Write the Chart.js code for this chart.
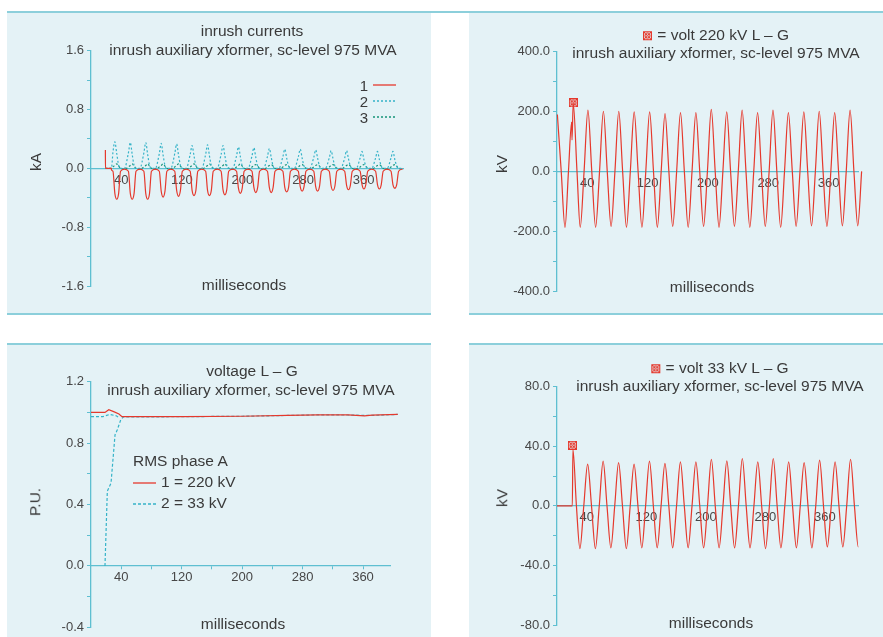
<!DOCTYPE html>
<html>
<head>
<meta charset="utf-8">
<script src="https://cdn.jsdelivr.net/npm/chart.js@4.4.1/dist/chart.umd.min.js"></script>
<style>
  html, body { margin: 0; padding: 0; background: #fff; }
  body { width: 883px; height: 637px; position: relative; overflow: hidden; font-family: 'Liberation Sans', Arial, sans-serif; }
  .panel { position: absolute; background: #e4f2f6; }
  .rule { position: absolute; height: 2px; background: #8ccfdb; }
  canvas.chart { position: absolute; }
  .txt { position: absolute; transform: translate(-50%, -50%); white-space: nowrap; font-size: 15.5px; color: #3a3a3a; line-height: 1; }
  .rot { transform: translate(-50%, -50%) rotate(-90deg); }
  .lt { position: absolute; white-space: nowrap; font-size: 15.5px; color: #3a3a3a; line-height: 1; transform: translateY(-50%); }
  svg.key { position: absolute; }
  canvas.mk { vertical-align: 0px; margin-right: 1px; }
</style>
</head>
<body>
<div class="rule" style="left:7px;top:11px;width:876px"></div>
<div class="panel" style="left:7px;top:13px;width:424px;height:300px"></div>
<div class="rule" style="left:7px;top:313px;width:424px"></div>
<div class="panel" style="left:469px;top:13px;width:414px;height:300px"></div>
<div class="rule" style="left:469px;top:313px;width:414px"></div>
<div class="rule" style="left:7px;top:343px;width:424px"></div>
<div class="panel" style="left:7px;top:345px;width:424px;height:292px"></div>
<div class="rule" style="left:469px;top:343px;width:414px"></div>
<div class="panel" style="left:469px;top:345px;width:414px;height:292px"></div>

<canvas class="chart" id="cTL" width="424" height="302" style="left:7px;top:12px"></canvas>
<canvas class="chart" id="cTR" width="414" height="302" style="left:469px;top:12px"></canvas>
<canvas class="chart" id="cBL" width="424" height="310" style="left:7px;top:344px"></canvas>
<canvas class="chart" id="cBR" width="414" height="310" style="left:469px;top:344px"></canvas>

<!-- top left: inrush currents -->
<div class="txt" style="left:252px;top:31px">inrush currents</div>
<div class="txt" style="left:253px;top:50px">inrush auxiliary xformer, sc-level 975 MVA</div>
<div class="txt" style="left:244px;top:285px">milliseconds</div>
<div class="txt rot" style="left:36px;top:162px">kA</div>
<div class="txt" style="left:364px;top:85px;font-size:15px">1</div>
<svg class="key" style="left:373px;top:82px" width="23" height="6"><line x1="0" y1="3" x2="23" y2="3" stroke="#e5392d" stroke-width="1.3"/></svg>
<div class="txt" style="left:364px;top:101px;font-size:15px">2</div>
<svg class="key" style="left:373px;top:98px" width="23" height="6"><line x1="0" y1="3" x2="23" y2="3" stroke="#35b3c8" stroke-width="1.3" stroke-dasharray="2 2"/></svg>
<div class="txt" style="left:364px;top:117px;font-size:15px">3</div>
<svg class="key" style="left:373px;top:114px" width="23" height="6"><line x1="0" y1="3" x2="23" y2="3" stroke="#159478" stroke-width="1.3" stroke-dasharray="2 2"/></svg>

<!-- top right: 220 kV -->
<div class="txt" style="left:716px;top:35px"><canvas class="mk" width="9" height="9"></canvas> = volt 220 kV L – G</div>
<div class="txt" style="left:716px;top:53px">inrush auxiliary xformer, sc-level 975 MVA</div>
<div class="txt" style="left:712px;top:287px">milliseconds</div>
<div class="txt rot" style="left:502px;top:164px">kV</div>

<!-- bottom left: RMS -->
<div class="txt" style="left:252px;top:371px">voltage L – G</div>
<div class="txt" style="left:251px;top:390px">inrush auxiliary xformer, sc-level 975 MVA</div>
<div class="txt" style="left:243px;top:624px">milliseconds</div>
<div class="txt rot" style="left:35px;top:502px">P.U.</div>
<div class="lt" style="left:133px;top:461px">RMS phase A</div>
<svg class="key" style="left:133px;top:480px" width="23" height="6"><line x1="0" y1="3" x2="23" y2="3" stroke="#e5392d" stroke-width="1.3"/></svg>
<div class="lt" style="left:161px;top:482px">1 = 220 kV</div>
<svg class="key" style="left:133px;top:501px" width="23" height="6"><line x1="0" y1="3" x2="23" y2="3" stroke="#35b3c8" stroke-width="1.3" stroke-dasharray="3 2"/></svg>
<div class="lt" style="left:161px;top:503px">2 = 33 kV</div>

<!-- bottom right: 33 kV -->
<div class="txt" style="left:720px;top:368px"><canvas class="mk" width="9" height="9"></canvas> = volt 33 kV L – G</div>
<div class="txt" style="left:720px;top:386px">inrush auxiliary xformer, sc-level 975 MVA</div>
<div class="txt" style="left:711px;top:623px">milliseconds</div>
<div class="txt rot" style="left:502px;top:498px">kV</div>

<script>
// ---- inrush currents (kA), shared time base in ms ----
const curT = [19.0, 19.1, 26.9, 27.0,
  29.0, 31.5, 34.0, 36.5, 39.0, 44.2,
  49.4, 51.9, 54.4, 56.9, 59.4, 64.6,
  69.8, 72.3, 74.8, 77.3, 79.8, 85.0,
  90.2, 92.7, 95.2, 97.7, 100.2, 105.4,
  110.6, 113.1, 115.6, 118.1, 120.6, 125.8,
  131.0, 133.5, 136.0, 138.5, 141.0, 146.2,
  151.4, 153.9, 156.4, 158.9, 161.4, 166.6,
  171.8, 174.3, 176.8, 179.3, 181.8, 187.0,
  192.2, 194.7, 197.2, 199.7, 202.2, 207.4,
  212.6, 215.1, 217.6, 220.1, 222.6, 227.8,
  233.0, 235.5, 238.0, 240.5, 243.0, 248.2,
  253.4, 255.9, 258.4, 260.9, 263.4, 268.6,
  273.8, 276.3, 278.8, 281.3, 283.8, 289.0,
  294.2, 296.7, 299.2, 301.7, 304.2, 309.4,
  314.6, 317.1, 319.6, 322.1, 324.6, 329.8,
  335.0, 337.5, 340.0, 342.5, 345.0, 350.2,
  355.4, 357.9, 360.4, 362.9, 365.4, 370.6,
  375.8, 378.3, 380.8, 383.3, 385.8, 391.0,
  396.2, 398.7, 401.2, 403.7, 406.2, 411.4];

const curPhase1 = [0.25, 0, 0, -0.02,
  -0.04, -0.34, -0.42, -0.34, -0.04, -0.01,
  -0.04, -0.34, -0.42, -0.34, -0.04, -0.01,
  -0.04, -0.34, -0.42, -0.34, -0.04, -0.01,
  -0.04, -0.31, -0.39, -0.31, -0.04, -0.01,
  -0.04, -0.30, -0.38, -0.30, -0.04, -0.01,
  -0.04, -0.30, -0.37, -0.30, -0.04, -0.01,
  -0.04, -0.30, -0.37, -0.30, -0.04, -0.01,
  -0.04, -0.29, -0.36, -0.29, -0.04, -0.01,
  -0.04, -0.27, -0.34, -0.27, -0.04, -0.01,
  -0.04, -0.26, -0.33, -0.26, -0.04, -0.01,
  -0.04, -0.26, -0.33, -0.26, -0.04, -0.01,
  -0.04, -0.26, -0.32, -0.26, -0.04, -0.01,
  -0.04, -0.25, -0.31, -0.25, -0.04, -0.01,
  -0.04, -0.25, -0.31, -0.25, -0.04, -0.01,
  -0.04, -0.24, -0.30, -0.24, -0.04, -0.01,
  -0.04, -0.23, -0.29, -0.23, -0.04, -0.01,
  -0.04, -0.22, -0.28, -0.22, -0.04, -0.01,
  -0.04, -0.22, -0.28, -0.22, -0.04, -0.01,
  -0.04, -0.22, -0.27, -0.22, -0.04, -0.01];

const curPhase2 = [0, 0, 0, 0,
  0.22, 0.36, 0.20, 0.04, 0, 0,
  0.21, 0.35, 0.19, 0.04, 0, 0,
  0.21, 0.35, 0.19, 0.04, 0, 0,
  0.20, 0.34, 0.18, 0.04, 0, 0,
  0.20, 0.33, 0.18, 0.04, 0, 0,
  0.19, 0.31, 0.17, 0.04, 0, 0,
  0.19, 0.32, 0.17, 0.04, 0, 0,
  0.19, 0.31, 0.17, 0.04, 0, 0,
  0.17, 0.29, 0.16, 0.03, 0, 0,
  0.17, 0.28, 0.15, 0.03, 0, 0,
  0.16, 0.27, 0.15, 0.03, 0, 0,
  0.16, 0.26, 0.14, 0.03, 0, 0,
  0.16, 0.26, 0.14, 0.03, 0, 0,
  0.15, 0.25, 0.14, 0.03, 0, 0,
  0.14, 0.24, 0.13, 0.03, 0, 0,
  0.14, 0.24, 0.13, 0.03, 0, 0,
  0.14, 0.23, 0.12, 0.03, 0, 0,
  0.14, 0.23, 0.12, 0.03, 0, 0,
  0.14, 0.23, 0.12, 0.03, 0, 0];

const curPhase3 = [0, 0, 0, 0,
  0.02, 0.04, 0.06, 0.03, 0, -0.01,
  0.02, 0.04, 0.06, 0.03, 0, -0.01,
  0.02, 0.04, 0.06, 0.03, 0, -0.01,
  0.02, 0.04, 0.06, 0.03, 0, -0.01,
  0.02, 0.04, 0.06, 0.03, 0, -0.01,
  0.02, 0.04, 0.06, 0.03, 0, -0.01,
  0.02, 0.04, 0.06, 0.03, 0, -0.01,
  0.02, 0.04, 0.06, 0.03, 0, -0.01,
  0.02, 0.04, 0.06, 0.03, 0, -0.01,
  0.02, 0.04, 0.05, 0.03, 0, -0.01,
  0.02, 0.04, 0.05, 0.03, 0, -0.01,
  0.02, 0.04, 0.05, 0.03, 0, -0.01,
  0.02, 0.04, 0.05, 0.03, 0, -0.01,
  0.02, 0.04, 0.05, 0.03, 0, -0.01,
  0.02, 0.04, 0.05, 0.03, 0, -0.01,
  0.02, 0.04, 0.05, 0.03, 0, -0.01,
  0.02, 0.04, 0.05, 0.03, 0, -0.01,
  0.02, 0.04, 0.05, 0.03, 0, -0.01,
  0.02, 0.04, 0.05, 0.03, 0, -0.01];

// ---- 220 kV L-G voltage (kV) ----
const v220T = [0.5, 5.6, 10.6, 15.2, 19.4, 19.9, 21.5, 26.5,
  30.8, 35.9, 41.0, 46.1, 51.2, 56.4, 61.5, 66.6,
  71.7, 76.8, 81.9, 87.0, 92.1, 97.2, 102.3, 107.5,
  112.6, 117.7, 122.8, 127.9, 133.0, 138.1, 143.2, 148.3,
  153.4, 158.6, 163.7, 168.8, 173.9, 179.0, 184.1, 189.2,
  194.3, 199.4, 204.5, 209.7, 214.8, 219.9, 225.0, 230.1,
  235.2, 240.3, 245.4, 250.5, 255.6, 260.8, 265.9, 271.0,
  276.1, 281.2, 286.3, 291.4, 296.5, 301.6, 306.7, 311.9,
  317.0, 322.1, 327.2, 332.3, 337.4, 342.5, 347.6, 352.7,
  357.8, 363.0, 368.1, 373.2, 378.3, 383.4, 388.5, 393.6,
  398.7, 403.8, 408.9];
const v220 = [190, 0, -187, 0, 165, 105, 228, 0,
  -187, 0, 205, 0, -187, 0, 201, 0,
  -184, 0, 201, 0, -187, 0, 199, 0,
  -187, 0, 199, 0, -187, 0, 193, 0,
  -184, 0, 196, 0, -187, 0, 196, 0,
  -184, 0, 207, 0, -187, 0, 199, 0,
  -184, 0, 205, 0, -187, 0, 196, 0,
  -184, 0, 205, 0, -187, 0, 196, 0,
  -184, 0, 199, 0, -182, 0, 201, 0,
  -184, 0, 196, 0, -182, 0, 205, 0,
  -182, 0, 193];
const mark220 = { x: 21.6, y: 229 };

// ---- RMS phase A (p.u.) ----
const rms220T = [0, 18.5, 23.5, 30, 37, 41, 120, 200, 260, 300, 340, 362, 372, 406];
const rms220 = [1.0, 1.0, 1.017, 1.005, 0.99, 0.972, 0.972, 0.975, 0.98, 0.984, 0.984, 0.978, 0.982, 0.987];
const rms33T = [0, 16, 25, 34, 37.5, 37.6, 18.5, 21.6, 26.5, 31.8, 34.8, 39.3, 42.7, 120, 200, 260, 300, 340, 370, 406];
const rms33 = [0.973, 0.973, 0.987, 0.977, 0.962, null, 0, 0.487, 0.54, 0.854, 0.887, 0.951, 0.97, 0.972, 0.975, 0.98, 0.984, 0.983, 0.98, 0.987];

// ---- 33 kV L-G voltage (kV) ----
const v33T = [0, 20.6, 21.4, 26.1,
  30.8, 36.0, 41.2, 46.4, 51.6, 56.8, 62.0, 67.2,
  72.4, 77.6, 82.8, 88.0, 93.2, 98.4, 103.6, 108.8,
  114.0, 119.1, 124.3, 129.5, 134.7, 139.9, 145.1, 150.3,
  155.5, 160.7, 165.9, 171.1, 176.3, 181.5, 186.7, 191.9,
  197.1, 202.3, 207.5, 212.7, 217.9, 223.1, 228.3, 233.5,
  238.7, 243.9, 249.1, 254.3, 259.5, 264.7, 269.9, 275.1,
  280.3, 285.5, 290.7, 295.9, 301.0, 306.2, 311.4, 316.6,
  321.8, 327.0, 332.2, 337.4, 342.6, 347.8, 353.0, 358.2,
  363.4, 368.6, 373.8, 379.0, 384.2, 389.4, 394.6, 399.8,
  405.0, 410.2, 415.4];
const v33 = [0, 0, 38, 0,
  -28.7, 0, 28, 0, -28.7, 0, 30, 0,
  -28.2, 0, 29, 0, -28.7, 0, 28, 0,
  -28.2, 0, 30, 0, -28.2, 0, 28.5, 0,
  -28.2, 0, 29.5, 0, -28.2, 0, 29.5, 0,
  -28.2, 0, 31.3, 0, -28.2, 0, 30.2, 0,
  -28.2, 0, 31.8, 0, -28.2, 0, 29.5, 0,
  -28.7, 0, 31.8, 0, -28.2, 0, 29.5, 0,
  -28.2, 0, 29, 0, -28.2, 0, 30.7, 0,
  -27.6, 0, 29.5, 0, -27.6, 0, 31.3, 0,
  -27.6, 0, 30];
const mark33 = { x: 20.6, y: 40.7 };

// ---- axis ticks ----
const msTicks = [40, 120, 200, 280, 360];
const msTicksFine = [40, 80, 120, 160, 200, 240, 280, 320, 360];
const msLabels = ['40', '120', '200', '280', '360'];
const kaTicks = [-1.6, -1.2, -0.8, -0.4, 0, 0.4, 0.8, 1.2, 1.6];
const kaLabels = ['-1.6', '-0.8', '0.0', '0.8', '1.6'];
const kv220Ticks = [-400, -300, -200, -100, 0, 100, 200, 300, 400];
const kv220Labels = ['-400.0', '-200.0', '0.0', '200.0', '400.0'];
const puTicks = [-0.4, -0.2, 0, 0.2, 0.4, 0.6, 0.8, 1.0, 1.2];
const puLabels = ['-0.4', '0.0', '0.4', '0.8', '1.2'];
const kv33Ticks = [-80, -60, -40, -20, 0, 20, 40, 60, 80];
const kv33Labels = ['-80.0', '-40.0', '0.0', '40.0', '80.0'];

const AXIS = '#5ebfd1';
const RED = '#e5392d';
const CYAN = '#35b3c8';
const GREEN = '#159478';
const TICK_FONT = { family: "'Liberation Sans', Arial, sans-serif", size: 13 };
const TICK_COLOR = '#474747';

// marker glyph: square with cross and circle
function drawMarker(c) {
  const g = c.getContext('2d');
  const s = c.width;
  g.clearRect(0, 0, s, s);
  g.strokeStyle = RED;
  g.lineWidth = 1;
  g.fillStyle = 'rgba(229,57,45,0.18)';
  g.fillRect(0.5, 0.5, s - 1, s - 1);
  g.strokeRect(0.5, 0.5, s - 1, s - 1);
  g.beginPath();
  g.moveTo(0.5, 0.5); g.lineTo(s - 0.5, s - 0.5);
  g.moveTo(s - 0.5, 0.5); g.lineTo(0.5, s - 0.5);
  g.stroke();
  g.beginPath();
  g.arc(s / 2, s / 2, s / 2 - 2, 0, Math.PI * 2);
  g.stroke();
  return c;
}
document.querySelectorAll('canvas.mk').forEach(drawMarker);
const markerImg = document.createElement('canvas');
markerImg.width = 9; markerImg.height = 9;
drawMarker(markerImg);

function yScale(min, max, ticks, labels, width, digits) {
  return {
    type: 'linear', min, max,
    afterFit: s => { s.width = width; },
    afterBuildTicks: s => { s.ticks = ticks.map(v => ({ value: v })); },
    border: { display: true, color: AXIS, width: 1.3 },
    grid: { display: true, drawOnChartArea: false, drawTicks: true, tickLength: 4, color: AXIS },
    ticks: {
      font: TICK_FONT, color: TICK_COLOR, padding: 3,
      callback: v => labels.includes(v.toFixed(digits)) ? v.toFixed(digits) : ''
    }
  };
}

function xScale(max, ticks, tickLen) {
  return {
    type: 'linear', min: 0, max,
    position: { y: 0 },
    afterBuildTicks: s => { s.ticks = ticks.map(v => ({ value: v })); },
    border: { display: true, color: AXIS, width: 1.3 },
    grid: { display: tickLen > 0, drawOnChartArea: false, drawTicks: tickLen > 0, tickLength: tickLen, color: AXIS },
    ticks: {
      font: TICK_FONT, color: TICK_COLOR, padding: tickLen > 0 ? 1 : 4,
      maxRotation: 0, autoSkip: false,
      callback: v => msLabels.includes(String(v)) ? String(v) : ''
    }
  };
}

function series(xs, ys, color, dash, extra) {
  return Object.assign({
    data: xs.map((x, i) => ({ x, y: ys[i] })),
    borderColor: color,
    borderWidth: 1.2,
    borderDash: dash || [],
    pointRadius: 0,
    fill: false,
    cubicInterpolationMode: 'monotone',
    clip: false
  }, extra || {});
}

function marker(pt) {
  return {
    data: [pt], showLine: false, pointStyle: markerImg, pointRadius: 5,
    borderColor: RED, backgroundColor: RED, clip: false
  };
}

function makeChart(id, datasets, padding, xs, ys) {
  return new Chart(document.getElementById(id).getContext('2d'), {
    type: 'line',
    data: { datasets },
    options: {
      responsive: false,
      animation: false,
      events: [],
      layout: { padding },
      plugins: { legend: { display: false }, tooltip: { enabled: false } },
      scales: { x: xs, y: ys }
    }
  });
}

// inrush currents
makeChart('cTL', [
  series(curT, curPhase1, RED),
  series(curT, curPhase2, CYAN, [2, 2]),
  series(curT, curPhase3, GREEN, [2, 2])
], { left: 0, top: 38.7, right: 28, bottom: 28 },
  xScale(412, msTicks, 0), yScale(-1.6, 1.6, kaTicks, kaLabels, 84, 1));

// 220 kV voltage
makeChart('cTR', [
  marker(mark220),
  series(v220T, v220, RED)
], { left: 0, top: 39.7, right: 25, bottom: 23 },
  xScale(399, msTicks, 0), yScale(-400, 400, kv220Ticks, kv220Labels, 88, 1));

// RMS voltage
makeChart('cBL', [
  series(rms220T, rms220, RED, [], { cubicInterpolationMode: 'default', tension: 0 }),
  series(rms33T, rms33, CYAN, [3, 2], { cubicInterpolationMode: 'default', tension: 0 })
], { left: 0, top: 37.7, right: 40.8, bottom: 26.7 },
  xScale(396, msTicksFine, 3), yScale(-0.4, 1.2, puTicks, puLabels, 84, 1));

// 33 kV voltage
makeChart('cBR', [
  marker(mark33),
  series(v33T, v33, RED)
], { left: 0, top: 42.7, right: 24.7, bottom: 29 },
  xScale(405, msTicks, 0), yScale(-80, 80, kv33Ticks, kv33Labels, 88, 1));
</script>
</body>
</html>
